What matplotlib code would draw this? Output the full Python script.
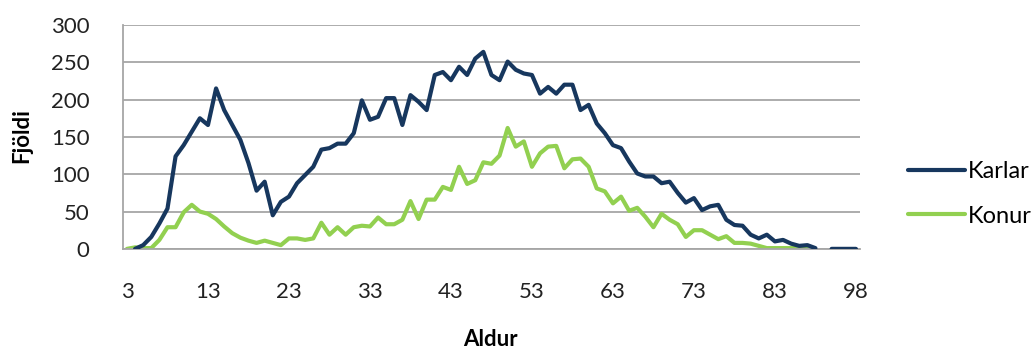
import matplotlib.pyplot as plt
import numpy as np

# age categories on the x axis (ages 93-97 have no entries)
ages = list(range(3, 93)) + [98]

karlar = [None, 0, 5, 16, 34, 54, 124, 139, 157, 175,
          166, 215, 186, 166, 146, 115, 78, 90, 45, 63,
          70, 88, 99, 110, 133, 135, 141, 141, 155, 199,
          173, 177, 202, 202, 166, 206, 197, 186, 233, 237,
          226, 244, 233, 255, 264, 233, 226, 251, 240, 235,
          233, 208, 217, 208, 220, 220, 186, 193, 168, 155,
          139, 135, 117, 101, 97, 97, 88, 90, 75, 62,
          68, 52, 57, 59, 39, 32, 31, 19, 14, 19,
          10, 12, 7, 4, 5, 1, None, 0, 0, 0, 0]

konur = [0, 2, 1, 1, 12, 29, 29, 49, 59, 50,
         47, 40, 30, 21, 15, 11, 8, 11, 8, 5,
         14, 14, 12, 14, 35, 19, 29, 19, 29, 31,
         30, 42, 33, 33, 39, 64, 40, 66, 66, 83,
         79, 110, 87, 92, 116, 114, 125, 162, 137, 144,
         110, 128, 137, 138, 108, 120, 121, 110, 81, 77,
         61, 70, 51, 55, 43, 29, 47, 39, 33, 16,
         25, 25, 19, 13, 17, 8, 8, 7, 4, 1,
         1, 1, 1, 1, 0, None, None, None, None, None, None]

plt.rcParams['font.family'] = ['Lato', 'DejaVu Sans']

x = np.arange(len(ages))
k = np.array([np.nan if v is None else v for v in karlar], dtype=float)
w = np.array([np.nan if v is None else v for v in konur], dtype=float)

fig = plt.figure(figsize=(10.33, 3.52), dpi=100)
ax = fig.add_axes([0.119, 0.293, 0.7135, 0.636])

ax.plot(x, w, color='#92D050', lw=3.0, label='Konur', zorder=2,
        solid_joinstyle='round', solid_capstyle='round')
ax.plot(x, k, color='#17375E', lw=3.0, label='Karlar', zorder=3,
        solid_joinstyle='round', solid_capstyle='round')

ax.set_xlim(-0.5, len(ages) - 0.5)
ax.set_ylim(0, 300)
ax.set_yticks(range(0, 301, 50))
ax.set_xticks(x[::10])
ax.set_xticklabels([str(a) for a in ages[::10]])
ax.yaxis.grid(True, color='#A6A6A6', lw=1.3)
ax.set_axisbelow(True)
ax.tick_params(axis='both', length=0, labelsize=16, colors='#222222')
ax.tick_params(axis='x', pad=24)
ax.tick_params(axis='y', pad=24)
for s in ['top', 'right']:
    ax.spines[s].set_visible(False)
ax.spines['left'].set_color('#A6A6A6')
ax.spines['bottom'].set_color('#A6A6A6')
ax.spines['left'].set_linewidth(1.3)
ax.spines['bottom'].set_linewidth(1.3)

# axis titles
fig.text(490 / 1033, 1 - 340 / 352, 'Aldur', fontsize=16, fontweight='bold',
         ha='center', va='center')
fig.text(22 / 1033, 1 - 136 / 352, 'Fjöldi', fontsize=16, fontweight='bold',
         ha='center', va='center', rotation=90)

h, l = ax.get_legend_handles_labels()
ax.legend(h[::-1], l[::-1], loc='center left', bbox_to_anchor=(0.879, 0.449),
          bbox_transform=fig.transFigure, frameon=False, borderpad=0,
          borderaxespad=0, fontsize=17, handlelength=2.4, handletextpad=0.15,
          labelspacing=1.0)

plt.savefig('out.png', dpi=100)
